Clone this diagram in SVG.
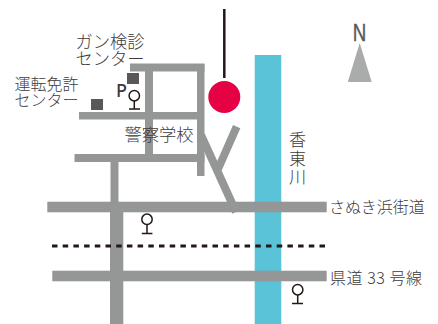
<svg xmlns="http://www.w3.org/2000/svg" width="438" height="324" viewBox="0 0 438 324">
<style>
.t{font-family:"Noto Sans CJK JP","Noto Sans",sans-serif;font-weight:300;fill:#3e3a39}
.r{fill:#959796}
.pin{fill:#fff;stroke:#231815;stroke-width:1.5}
.sq{fill:#595757}
</style>
<rect width="438" height="324" fill="#fff"/>
<g id="river"><rect x="254.7" y="55" width="26.6" height="269" fill="#5bc3d7"/></g>
<g id="connectors">
<rect class="r" x="130" y="63.5" width="74.5" height="8"/>
<rect class="r" x="145" y="64" width="8" height="98"/>
<rect class="r" x="197" y="64" width="7.500" height="112"/>
<rect class="r" x="79" y="112" width="118" height="7.500"/>
<rect class="r" x="74.500" y="154" width="130" height="8"/>
<rect class="r" x="110.500" y="162" width="8" height="42"/>
<rect class="r" x="47.300" y="201.700" width="279.400" height="10.600"/>
<rect class="r" x="110" y="202" width="13.300" height="122"/>
<rect class="r" x="52.300" y="270.700" width="274.400" height="10.600"/>
<path d="M201 135L236 212M236.700 126.700L216.700 172" fill="none" stroke="#959796" stroke-width="8"/>
<path d="M52 246H325" fill="none" stroke="#231815" stroke-width="2.800" stroke-dasharray="5.500 5.200"/>
<path d="M224.300 9V78" fill="none" stroke="#231815" stroke-width="2.500"/>
</g>
<g id="destination"><circle cx="224.300" cy="97" r="16" fill="#e60044"/></g>
<g id="north">
<path d="M359.700 43L371.700 82H347.800Z" fill="#aaabab"/>
<text x="352.700" y="41" font-family="Liberation Sans,sans-serif" font-size="23.500" textLength="13.500" lengthAdjust="spacingAndGlyphs" fill="#595757" stroke="#595757" stroke-width="0.400">N</text>
</g>
<g id="gan-center">
<rect class="sq" x="127" y="73" width="12" height="11"/>
<text class="t" x="75.500" y="47.500" font-size="17.300">ガン検診</text>
<text class="t" x="75.500" y="64.500" font-size="17.300">センター</text>
</g>
<g id="license-center">
<rect class="sq" x="91" y="99" width="12" height="11"/>
<text class="t" x="14.500" y="90" font-size="16">運転免許</text>
<text class="t" x="14.500" y="106" font-size="16">センター</text>
</g>
<g id="police-school"><text class="t" x="124.500" y="141" font-size="17.300">警察学校</text></g>
<g id="parking"><text x="116" y="96.500" font-family="Noto Sans,sans-serif" font-size="18" font-weight="500" fill="#3e3a39">P</text></g>
<g id="pin1"><circle class="pin" cx="134.300" cy="95.700" r="5.200"/><path class="pin" d="M134.300 101V109M129 109H140"/></g>
<g id="pin2"><circle class="pin" cx="147" cy="219.300" r="5.200"/><path class="pin" d="M147 224.500V233.500M141.800 233.500H152.400"/></g>
<g id="pin3"><circle class="pin" cx="297.700" cy="289.700" r="5.200"/><path class="pin" d="M297.700 295V303.500M292 303.500H303"/></g>
<g id="river-label">
<text class="t" x="289" y="146" font-size="17">香</text>
<text class="t" x="289" y="165" font-size="17">東</text>
<text class="t" x="289" y="183" font-size="17">川</text>
</g>
<g id="road1-label"><text class="t" x="329" y="213" font-size="16">さぬき浜街道</text></g>
<g id="road2-label"><text class="t" x="330" y="284" font-size="16" textLength="92">県道 33 号線</text></g>
</svg>
